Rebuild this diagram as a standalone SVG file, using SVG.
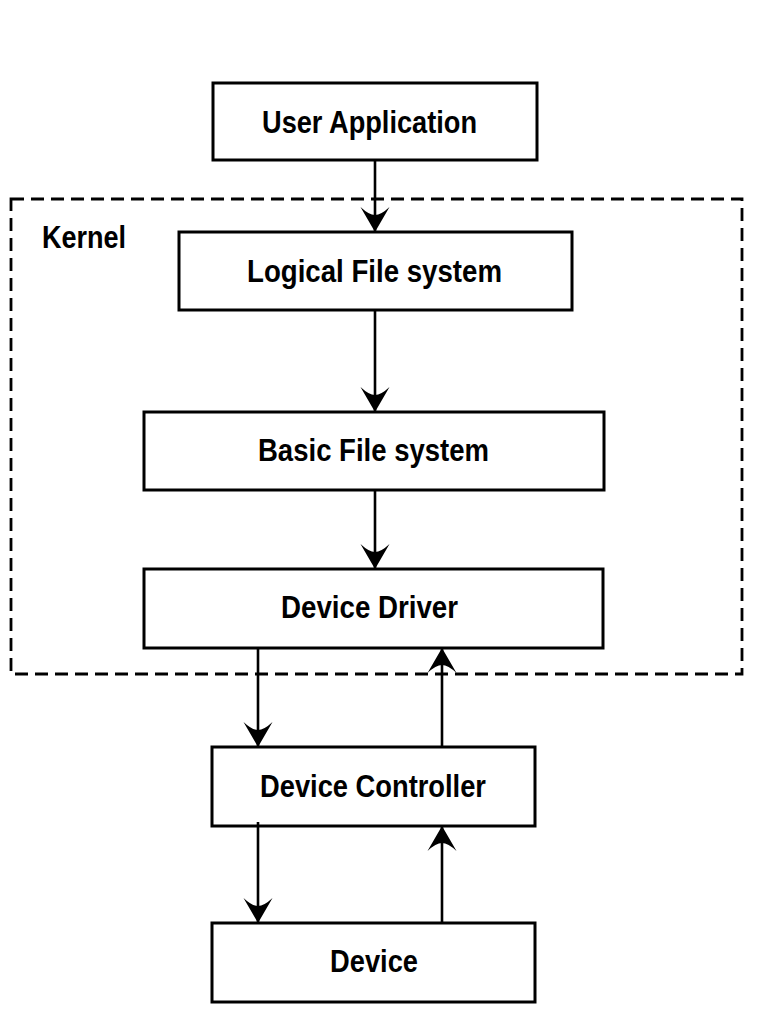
<svg xmlns="http://www.w3.org/2000/svg" width="768" height="1024" viewBox="0 0 768 1024">
<style>
.box{fill:#fff;stroke:#000;stroke-width:3}
.lbl{font-family:"Liberation Sans",Arial,sans-serif;font-size:31px;font-weight:bold;fill:#000;text-anchor:middle}
.con{stroke:#000;stroke-width:2.6;fill:none;marker-end:url(#ah)}
.kern{fill:none;stroke:#000;stroke-width:2.8;stroke-dasharray:13 7}
</style>
<defs>
<marker id="ah" markerUnits="userSpaceOnUse" viewBox="-26 -15 28 30" refX="0" refY="0" markerWidth="28" markerHeight="30" orient="auto">
<path d="M0,0 L-25,-14.5 Q-17,-6 -17,0 Q-17,6 -25,14.5 Z" fill="#000"/>
</marker>
</defs>
<rect width="768" height="1024" fill="#fff"/>
<g id="kernel">
<rect class="kern" x="11" y="199" width="731" height="475"/>
<text class="lbl" x="84" y="248" textLength="84" lengthAdjust="spacingAndGlyphs">Kernel</text>
</g>
<g id="user-application">
<rect class="box" x="213" y="83" width="324" height="77"/>
<text class="lbl" x="369.5" y="133" textLength="215" lengthAdjust="spacingAndGlyphs">User Application</text>
</g>
<g id="logical-file-system">
<rect class="box" x="179" y="232" width="393" height="78"/>
<text class="lbl" x="374.5" y="282" textLength="255" lengthAdjust="spacingAndGlyphs">Logical File system</text>
</g>
<g id="basic-file-system">
<rect class="box" x="144" y="412" width="460" height="78"/>
<text class="lbl" x="373.5" y="461" textLength="231" lengthAdjust="spacingAndGlyphs">Basic File system</text>
</g>
<g id="device-driver">
<rect class="box" x="144" y="569" width="459" height="79"/>
<text class="lbl" x="369.5" y="618" textLength="177" lengthAdjust="spacingAndGlyphs">Device Driver</text>
</g>
<g id="device-controller">
<rect class="box" x="212" y="747" width="323" height="79"/>
<text class="lbl" x="373" y="797" textLength="226" lengthAdjust="spacingAndGlyphs">Device Controller</text>
</g>
<g id="device">
<rect class="box" x="212" y="923" width="323" height="79"/>
<text class="lbl" x="374" y="972" textLength="88" lengthAdjust="spacingAndGlyphs">Device</text>
</g>
<g id="connectors">
<line class="con" x1="375" y1="160" x2="375" y2="232"/>
<line class="con" x1="375" y1="310" x2="375" y2="412"/>
<line class="con" x1="375" y1="490" x2="375" y2="569"/>
<line class="con" x1="258" y1="648" x2="258" y2="747"/>
<line class="con" x1="442" y1="747" x2="442" y2="648"/>
<line class="con" x1="258" y1="822" x2="258" y2="923"/>
<line class="con" x1="442" y1="923" x2="442" y2="826"/>
</g>
</svg>
